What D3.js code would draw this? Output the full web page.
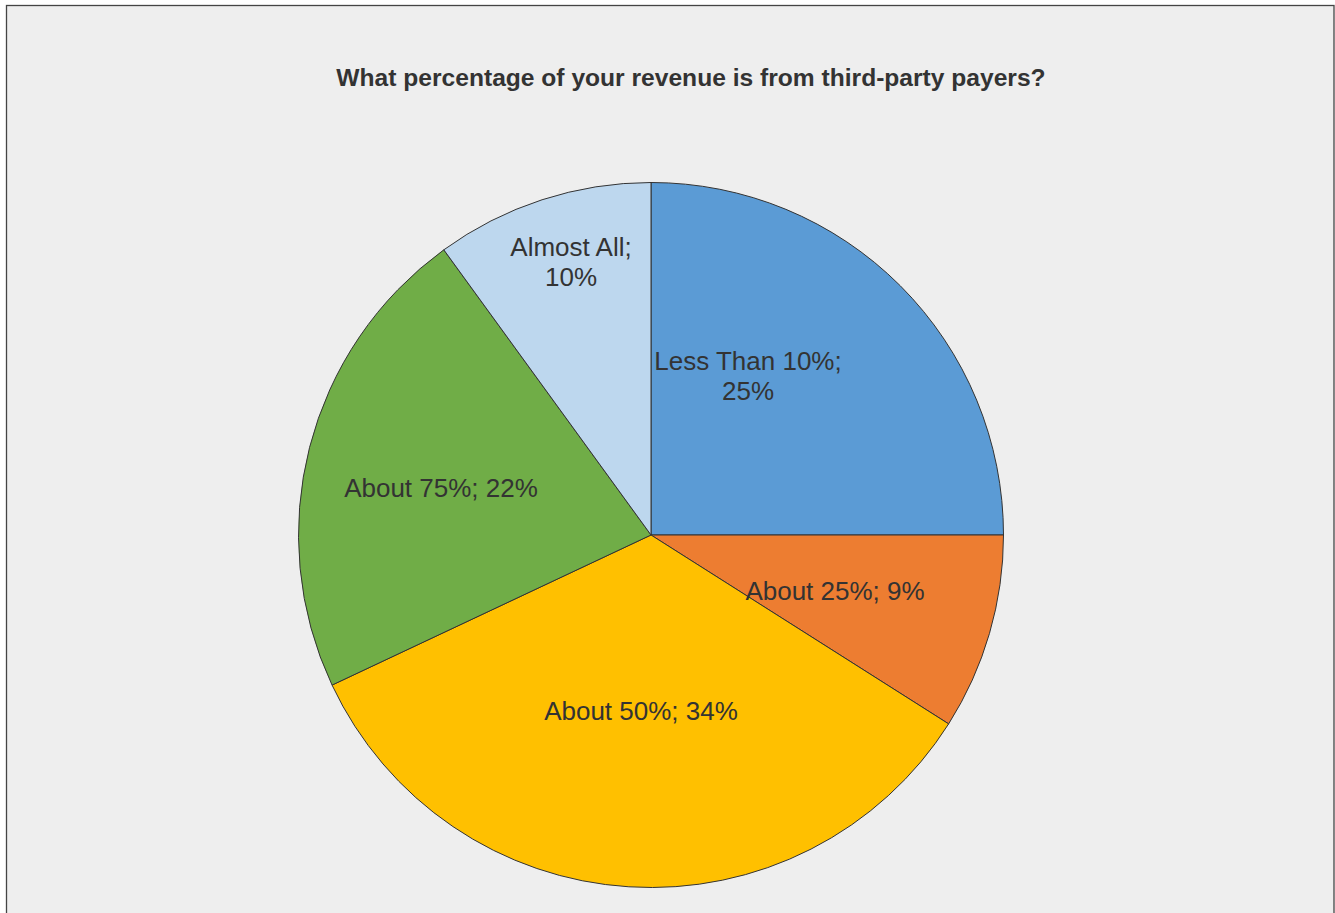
<!DOCTYPE html>
<html>
<head>
<meta charset="utf-8">
<script src="https://cdn.jsdelivr.net/npm/d3@7"></script>
<style>
  html, body { margin: 0; padding: 0; background: #ffffff; }
  svg { display: block; }
</style>
</head>
<body>
<svg id="chart" width="1335" height="913"></svg>
<script>
// Survey answers, clockwise from 12 o'clock
const categories = ["Less Than 10%", "About 25%", "About 50%", "About 75%", "Almost All"];
const shares = [25, 9, 34, 22, 10];
const sliceColors = ["#5B9BD5", "#ED7D31", "#FFC000", "#70AD47", "#BDD7EE"];
const title = "What percentage of your revenue is from third-party payers?";

// Label layout: each label's lines and its centre point in the chart
const labelLines = [
  ["Less Than 10%;", "25%"],
  ["About 25%; 9%"],
  ["About 50%; 34%"],
  ["About 75%; 22%"],
  ["Almost All;", "10%"]
];
const labelAnchors = [[748, 376], [835, 591], [641, 711], [441, 488], [571, 262]];

const svg = d3.select("#chart");

// Panel
svg.append("rect")
  .attr("x", 6.5).attr("y", 5.5)
  .attr("width", 1327.5).attr("height", 920)
  .attr("fill", "#eeeeee")
  .attr("stroke", "#444444")
  .attr("stroke-width", 1.3);

svg.append("text")
  .attr("x", 691).attr("y", 86)
  .attr("text-anchor", "middle")
  .attr("font-family", "Liberation Sans, Arial, sans-serif")
  .attr("font-weight", "bold")
  .attr("font-size", 24.6)
  .attr("fill", "#333333")
  .text(title);

const cx = 651, cy = 535, radius = 352.5;

const pie = d3.pie().sort(null).value(d => d);
const arc = d3.arc().innerRadius(0).outerRadius(radius);
const color = d3.scaleOrdinal().domain(categories).range(sliceColors);

const g = svg.append("g").attr("transform", `translate(${cx},${cy})`);

g.selectAll("path.slice")
  .data(pie(shares))
  .join("path")
  .attr("class", "slice")
  .attr("d", arc)
  .attr("fill", (d, i) => color(categories[i]))
  .attr("stroke", "#333333")
  .attr("stroke-width", 1);

const lineHeight = 30;
const labels = svg.append("g")
  .attr("font-family", "Liberation Sans, Arial, sans-serif")
  .attr("font-size", 26)
  .attr("fill", "#333333")
  .attr("text-anchor", "middle");

labelLines.forEach((lines, i) => {
  const [lx, ly] = labelAnchors[i];
  const top = ly - (lines.length - 1) * lineHeight / 2;
  const t = labels.append("text");
  lines.forEach((line, j) => {
    t.append("tspan")
      .attr("x", lx)
      .attr("y", top + j * lineHeight)
      .attr("dy", "0.35em")
      .text(line);
  });
});
</script>
</body>
</html>
